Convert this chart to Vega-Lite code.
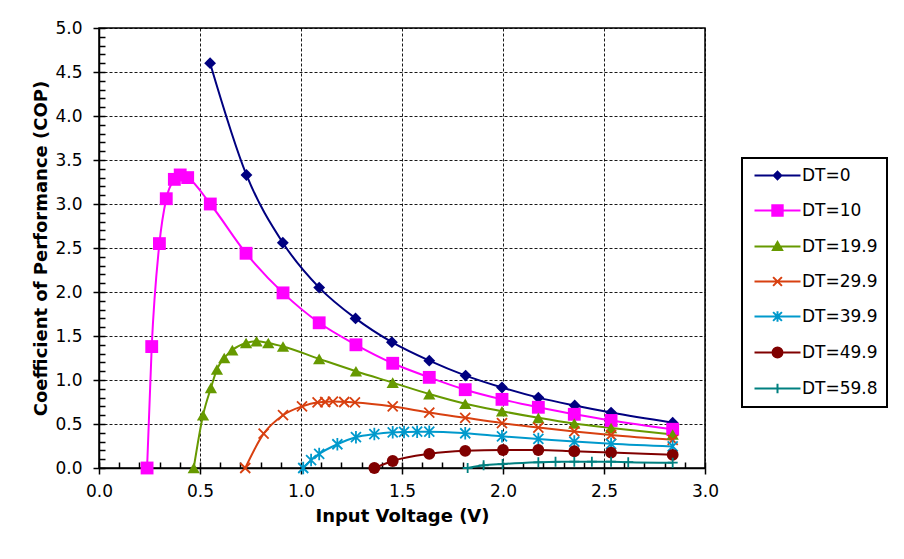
{
  "$schema": "https://vega.github.io/schema/vega-lite/v6.json",
  "width": 606,
  "height": 440,
  "autosize": {"type": "none"},
  "padding": {"left": 99, "top": 28, "right": 199, "bottom": 91},
  "background": "white",
  "config": {
    "view": {"stroke": "#000", "strokeWidth": 1.5},
    "font": "DejaVu Sans"
  },
  "data": {
    "values": [
      {"series": "DT=0", "v": 0.55, "cop": 4.60},
      {"series": "DT=0", "v": 0.73, "cop": 3.33},
      {"series": "DT=0", "v": 0.91, "cop": 2.56},
      {"series": "DT=0", "v": 1.09, "cop": 2.05},
      {"series": "DT=0", "v": 1.27, "cop": 1.70},
      {"series": "DT=0", "v": 1.45, "cop": 1.43},
      {"series": "DT=0", "v": 1.635, "cop": 1.22},
      {"series": "DT=0", "v": 1.815, "cop": 1.05},
      {"series": "DT=0", "v": 1.995, "cop": 0.915},
      {"series": "DT=0", "v": 2.175, "cop": 0.80},
      {"series": "DT=0", "v": 2.355, "cop": 0.71},
      {"series": "DT=0", "v": 2.535, "cop": 0.63},
      {"series": "DT=0", "v": 2.84, "cop": 0.515},
      {"series": "DT=10", "v": 0.238, "cop": 0.0},
      {"series": "DT=10", "v": 0.261, "cop": 1.38},
      {"series": "DT=10", "v": 0.299, "cop": 2.55},
      {"series": "DT=10", "v": 0.333, "cop": 3.06},
      {"series": "DT=10", "v": 0.373, "cop": 3.28},
      {"series": "DT=10", "v": 0.402, "cop": 3.33},
      {"series": "DT=10", "v": 0.439, "cop": 3.30},
      {"series": "DT=10", "v": 0.551, "cop": 3.00},
      {"series": "DT=10", "v": 0.728, "cop": 2.44},
      {"series": "DT=10", "v": 0.911, "cop": 1.99},
      {"series": "DT=10", "v": 1.09, "cop": 1.65},
      {"series": "DT=10", "v": 1.272, "cop": 1.40},
      {"series": "DT=10", "v": 1.454, "cop": 1.19},
      {"series": "DT=10", "v": 1.635, "cop": 1.03},
      {"series": "DT=10", "v": 1.813, "cop": 0.89},
      {"series": "DT=10", "v": 1.995, "cop": 0.78},
      {"series": "DT=10", "v": 2.175, "cop": 0.69},
      {"series": "DT=10", "v": 2.353, "cop": 0.61},
      {"series": "DT=10", "v": 2.535, "cop": 0.54},
      {"series": "DT=10", "v": 2.84, "cop": 0.44},
      {"series": "DT=19.9", "v": 0.469, "cop": 0.0},
      {"series": "DT=19.9", "v": 0.515, "cop": 0.60},
      {"series": "DT=19.9", "v": 0.554, "cop": 0.91},
      {"series": "DT=19.9", "v": 0.584, "cop": 1.12},
      {"series": "DT=19.9", "v": 0.62, "cop": 1.25},
      {"series": "DT=19.9", "v": 0.66, "cop": 1.34},
      {"series": "DT=19.9", "v": 0.728, "cop": 1.42},
      {"series": "DT=19.9", "v": 0.78, "cop": 1.44},
      {"series": "DT=19.9", "v": 0.838, "cop": 1.42},
      {"series": "DT=19.9", "v": 0.911, "cop": 1.38},
      {"series": "DT=19.9", "v": 1.09, "cop": 1.24},
      {"series": "DT=19.9", "v": 1.272, "cop": 1.10},
      {"series": "DT=19.9", "v": 1.454, "cop": 0.97},
      {"series": "DT=19.9", "v": 1.635, "cop": 0.84},
      {"series": "DT=19.9", "v": 1.813, "cop": 0.73},
      {"series": "DT=19.9", "v": 1.995, "cop": 0.645},
      {"series": "DT=19.9", "v": 2.175, "cop": 0.57},
      {"series": "DT=19.9", "v": 2.353, "cop": 0.505},
      {"series": "DT=19.9", "v": 2.535, "cop": 0.455},
      {"series": "DT=19.9", "v": 2.84, "cop": 0.38},
      {"series": "DT=29.9", "v": 0.724, "cop": 0.0},
      {"series": "DT=29.9", "v": 0.815, "cop": 0.39},
      {"series": "DT=29.9", "v": 0.911, "cop": 0.60},
      {"series": "DT=29.9", "v": 1.005, "cop": 0.70},
      {"series": "DT=29.9", "v": 1.082, "cop": 0.745},
      {"series": "DT=29.9", "v": 1.12, "cop": 0.75},
      {"series": "DT=29.9", "v": 1.158, "cop": 0.755},
      {"series": "DT=29.9", "v": 1.214, "cop": 0.75},
      {"series": "DT=29.9", "v": 1.267, "cop": 0.745},
      {"series": "DT=29.9", "v": 1.454, "cop": 0.70},
      {"series": "DT=29.9", "v": 1.635, "cop": 0.63},
      {"series": "DT=29.9", "v": 1.813, "cop": 0.57},
      {"series": "DT=29.9", "v": 1.995, "cop": 0.51},
      {"series": "DT=29.9", "v": 2.175, "cop": 0.46},
      {"series": "DT=29.9", "v": 2.353, "cop": 0.415},
      {"series": "DT=29.9", "v": 2.535, "cop": 0.375},
      {"series": "DT=29.9", "v": 2.84, "cop": 0.32},
      {"series": "DT=39.9", "v": 1.011, "cop": 0.0},
      {"series": "DT=39.9", "v": 1.05, "cop": 0.09},
      {"series": "DT=39.9", "v": 1.09, "cop": 0.16},
      {"series": "DT=39.9", "v": 1.18, "cop": 0.27},
      {"series": "DT=39.9", "v": 1.272, "cop": 0.35},
      {"series": "DT=39.9", "v": 1.363, "cop": 0.385},
      {"series": "DT=39.9", "v": 1.454, "cop": 0.405},
      {"series": "DT=39.9", "v": 1.51, "cop": 0.41},
      {"series": "DT=39.9", "v": 1.575, "cop": 0.413},
      {"series": "DT=39.9", "v": 1.635, "cop": 0.413},
      {"series": "DT=39.9", "v": 1.813, "cop": 0.395},
      {"series": "DT=39.9", "v": 1.995, "cop": 0.36},
      {"series": "DT=39.9", "v": 2.175, "cop": 0.33},
      {"series": "DT=39.9", "v": 2.353, "cop": 0.30},
      {"series": "DT=39.9", "v": 2.535, "cop": 0.275},
      {"series": "DT=39.9", "v": 2.84, "cop": 0.245},
      {"series": "DT=49.9", "v": 1.363, "cop": 0.0},
      {"series": "DT=49.9", "v": 1.454, "cop": 0.08},
      {"series": "DT=49.9", "v": 1.635, "cop": 0.16},
      {"series": "DT=49.9", "v": 1.813, "cop": 0.195},
      {"series": "DT=49.9", "v": 2.0, "cop": 0.205},
      {"series": "DT=49.9", "v": 2.175, "cop": 0.205},
      {"series": "DT=49.9", "v": 2.353, "cop": 0.19},
      {"series": "DT=49.9", "v": 2.535, "cop": 0.175},
      {"series": "DT=49.9", "v": 2.84, "cop": 0.15},
      {"series": "DT=59.8", "v": 1.825, "cop": 0.0},
      {"series": "DT=59.8", "v": 1.904, "cop": 0.03},
      {"series": "DT=59.8", "v": 1.998, "cop": 0.045},
      {"series": "DT=59.8", "v": 2.175, "cop": 0.064},
      {"series": "DT=59.8", "v": 2.26, "cop": 0.07},
      {"series": "DT=59.8", "v": 2.353, "cop": 0.072},
      {"series": "DT=59.8", "v": 2.44, "cop": 0.072},
      {"series": "DT=59.8", "v": 2.535, "cop": 0.072},
      {"series": "DT=59.8", "v": 2.62, "cop": 0.066},
      {"series": "DT=59.8", "v": 2.84, "cop": 0.06}
    ]
  },
  "layer": [
    {
      "mark": {"type": "line", "interpolate": "monotone", "strokeWidth": 2},
      "encoding": {
        "x": {
          "field": "v", "type": "quantitative",
          "scale": {"domain": [0, 3], "nice": false, "zero": false},
          "axis": {
            "orient": "bottom",
            "values": [0, 0.5, 1, 1.5, 2, 2.5, 3],
            "format": ".1f",
            "tickSize": 6, "tickWidth": 1.5, "tickColor": "#000",
            "domainColor": "#000", "domainWidth": 1.5,
            "grid": true, "gridColor": "#000", "gridDash": [3, 2], "gridWidth": 1, "gridOpacity": 0.9,
            "labelFont": "DejaVu Sans", "labelFontSize": 17, "labelColor": "#000", "labelPadding": 9,
            "labelFlush": false,
            "title": "Input Voltage (V)",
            "titleFont": "DejaVu Sans", "titleFontSize": 18, "titleFontWeight": "bold", "titleColor": "#000",
            "titlePadding": 8
          }
        },
        "y": {
          "field": "cop", "type": "quantitative",
          "scale": {"domain": [0, 5], "nice": false},
          "axis": {
            "orient": "left",
            "values": [0, 0.5, 1, 1.5, 2, 2.5, 3, 3.5, 4, 4.5, 5],
            "format": ".1f",
            "tickSize": 6, "tickWidth": 1.5, "tickColor": "#000",
            "domainColor": "#000", "domainWidth": 1.5,
            "grid": true, "gridColor": "#000", "gridDash": [3, 2], "gridWidth": 1, "gridOpacity": 0.9,
            "labelFont": "DejaVu Sans", "labelFontSize": 17, "labelColor": "#000", "labelPadding": 11,
            "labelFlush": false,
            "title": "Coefficient of Performance (COP)",
            "titleFont": "DejaVu Sans", "titleFontSize": 18, "titleFontWeight": "bold", "titleColor": "#000",
            "titlePadding": 4
          }
        },
        "color": {
          "field": "series", "type": "nominal",
          "scale": {
            "domain": ["DT=0", "DT=10", "DT=19.9", "DT=29.9", "DT=39.9", "DT=49.9", "DT=59.8"],
            "range": ["#000080", "#FF00FF", "#669900", "#D84010", "#0099CC", "#800000", "#008080"]
          },
          "legend": {
            "orient": "none",
            "legendX": 643,
            "legendY": 130,
            "title": null,
            "padding": 9,
            "strokeColor": "#000",
            "fillColor": "white",
            "labelFont": "DejaVu Sans", "labelFontSize": 17, "labelColor": "#000",
            "labelLimit": 200,
            "symbolSize": 64,
            "symbolStrokeWidth": 2,
            "symbolOffset": 18,
            "labelOffset": 16,
            "rowPadding": 17,
            "encode": {
              "legend": {"update": {"strokeWidth": {"value": 2}}},
              "symbols": {
                "update": {
                  "shape": {"signal": "datum.value === 'DT=0' ? 'M-5.75,0H5.75M0,-0.95L0.95,0L0,0.95L-0.95,0Z' : datum.value === 'DT=10' ? 'M-5.75,0H5.75M-1.3,-1.3H1.3V1.3H-1.3Z' : datum.value === 'DT=19.9' ? 'M-5.75,0H5.75M0,-1.1L1.15,0.9L-1.15,0.9Z' : datum.value === 'DT=29.9' ? 'M-5.75,0H5.75M-1.1,-1.1L1.1,1.1M1.1,-1.1L-1.1,1.1' : datum.value === 'DT=39.9' ? 'M-5.75,0H5.75M-1.1,-1.1L1.1,1.1M1.1,-1.1L-1.1,1.1M0,-1.3V1.3' : datum.value === 'DT=49.9' ? 'M-5.75,0H5.75M-1.25,0A1.25,1.25,0,1,1,1.25,0A1.25,1.25,0,1,1,-1.25,0Z' : 'M-5.75,0H5.75M0,-1.2V1.2'"},
                  "fill": {"signal": "indexof(['DT=29.9','DT=39.9','DT=59.8'], datum.value) >= 0 ? 'transparent' : scale('color', datum.value)"},
                  "stroke": {"signal": "scale('color', datum.value)"},
                  "strokeWidth": {"value": 2},
                  "size": {"value": 64},
                  "opacity": {"value": 1}
                }
              }
            }
          }
        }
      }
    },
    {
      "transform": [{"filter": {"field": "series", "equal": "DT=0"}}],
      "mark": {"type": "point", "shape": "diamond", "filled": true, "opacity": 1, "size": 140},
      "encoding": {
        "x": {
          "field": "v", "type": "quantitative",
          "axis": {
            "orient": "bottom",
            "values": [0, 0.1, 0.2, 0.3, 0.4, 0.5, 0.6, 0.7, 0.8, 0.9, 1, 1.1, 1.2, 1.3, 1.4, 1.5, 1.6, 1.7, 1.8, 1.9, 2, 2.1, 2.2, 2.3, 2.4, 2.5, 2.6, 2.7, 2.8, 2.9, 3],
            "tickSize": -6, "tickWidth": 1.5, "tickColor": "#000",
            "domain": false, "grid": false, "labels": false, "title": null
          }
        },
        "y": {
          "field": "cop", "type": "quantitative",
          "axis": {
            "orient": "left",
            "values": [0, 0.1, 0.2, 0.3, 0.4, 0.5, 0.6, 0.7, 0.8, 0.9, 1, 1.1, 1.2, 1.3, 1.4, 1.5, 1.6, 1.7, 1.8, 1.9, 2, 2.1, 2.2, 2.3, 2.4, 2.5, 2.6, 2.7, 2.8, 2.9, 3, 3.1, 3.2, 3.3, 3.4, 3.5, 3.6, 3.7, 3.8, 3.9, 4, 4.1, 4.2, 4.3, 4.4, 4.5, 4.6, 4.7, 4.8, 4.9, 5],
            "tickSize": -6, "tickWidth": 1.5, "tickColor": "#000",
            "domain": false, "grid": false, "labels": false, "title": null
          }
        },
        "color": {"field": "series", "type": "nominal"}
      }
    },
    {
      "transform": [{"filter": {"field": "series", "equal": "DT=10"}}],
      "mark": {"type": "point", "shape": "square", "filled": true, "opacity": 1, "size": 165},
      "encoding": {
        "x": {"field": "v", "type": "quantitative", "axis": null},
        "y": {"field": "cop", "type": "quantitative", "axis": null},
        "color": {"field": "series", "type": "nominal"}
      }
    },
    {
      "transform": [{"filter": {"field": "series", "equal": "DT=19.9"}}],
      "mark": {"type": "point", "shape": "triangle-up", "filled": true, "opacity": 1, "size": 150},
      "encoding": {
        "x": {"field": "v", "type": "quantitative", "axis": null},
        "y": {"field": "cop", "type": "quantitative", "axis": null},
        "color": {"field": "series", "type": "nominal"}
      }
    },
    {
      "transform": [{"filter": {"field": "series", "equal": "DT=29.9"}}],
      "mark": {"type": "point", "shape": "M-1,-1L1,1M1,-1L-1,1", "filled": false, "opacity": 1, "size": 100, "strokeWidth": 1.8},
      "encoding": {
        "x": {"field": "v", "type": "quantitative", "axis": null},
        "y": {"field": "cop", "type": "quantitative", "axis": null},
        "color": {"field": "series", "type": "nominal"}
      }
    },
    {
      "transform": [{"filter": {"field": "series", "equal": "DT=39.9"}}],
      "mark": {"type": "point", "shape": "M-1,-1L1,1M1,-1L-1,1M0,-1.25V1.25", "filled": false, "opacity": 1, "size": 100, "strokeWidth": 1.8},
      "encoding": {
        "x": {"field": "v", "type": "quantitative", "axis": null},
        "y": {"field": "cop", "type": "quantitative", "axis": null},
        "color": {"field": "series", "type": "nominal"}
      }
    },
    {
      "transform": [{"filter": {"field": "series", "equal": "DT=49.9"}}],
      "mark": {"type": "point", "shape": "circle", "filled": true, "opacity": 1, "size": 140},
      "encoding": {
        "x": {"field": "v", "type": "quantitative", "axis": null},
        "y": {"field": "cop", "type": "quantitative", "axis": null},
        "color": {"field": "series", "type": "nominal"}
      }
    },
    {
      "transform": [{"filter": {"field": "series", "equal": "DT=59.8"}}],
      "mark": {"type": "point", "shape": "M-1,0H1M0,-1V1", "filled": false, "opacity": 1, "size": 100, "strokeWidth": 1.8},
      "encoding": {
        "x": {"field": "v", "type": "quantitative", "axis": null},
        "y": {"field": "cop", "type": "quantitative", "axis": null},
        "color": {"field": "series", "type": "nominal"}
      }
    }
  ],
  "resolve": {"axis": {"x": "independent", "y": "independent"}}
}
